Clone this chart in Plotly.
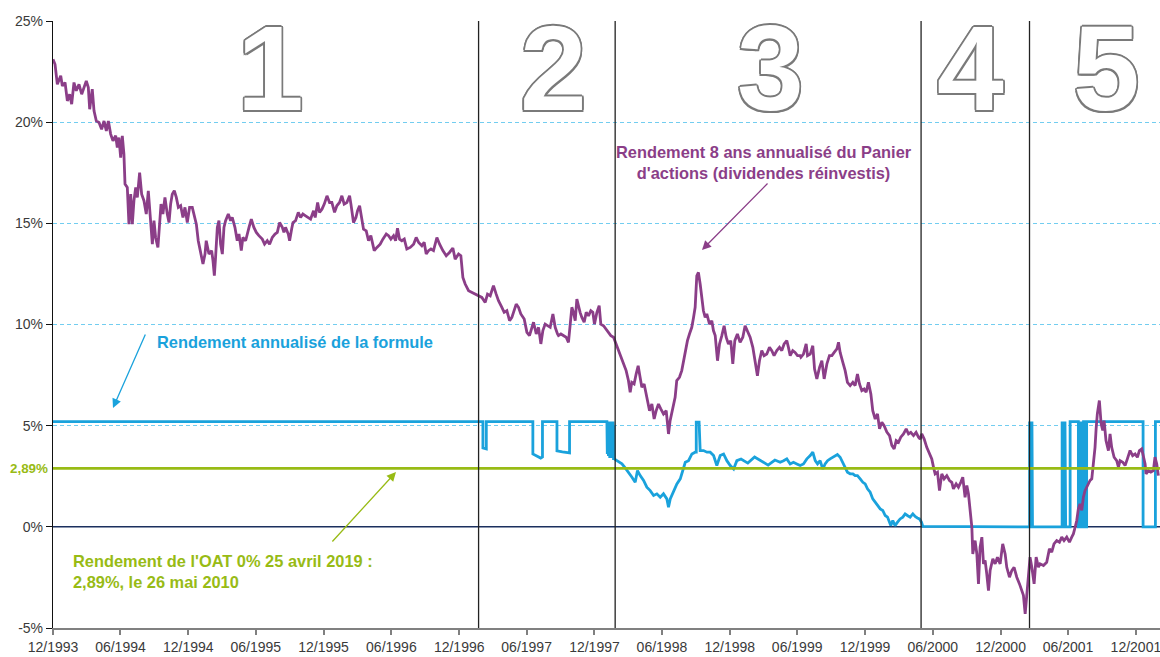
import numpy as np
import pandas as pd
import plotly.graph_objects as go

# ---------------- DATA ----------------
# x values are decimal years, y values in %
purple_years = [
1993.917,1993.932,1993.949,1993.974,1993.986,1994.006,1994.023,1994.040,1994.055,1994.072,1994.089,1994.109,1994.129,1994.146,1994.163,1994.178,1994.188,1994.207,1994.220,1994.237,1994.257,1994.276,1994.294,1994.311,1994.326,1994.343,1994.360,1994.380,1994.392,1994.404,1994.417,1994.429,1994.441,1994.449,1994.466,1994.478,1994.491,1994.503,1994.515,1994.528,1994.540,1994.557,1994.572,1994.589,1994.606,1994.621,1994.638,1994.651,1994.663,1994.675,1994.692,1994.705,1994.715,1994.729,1994.744,1994.761,1994.774,1994.786,1994.798,1994.813,1994.828,1994.843,1994.860,1994.877,1994.892,1994.909,1994.926,1994.946,1994.958,1994.976,1994.990,1995.008,1995.025,1995.040,1995.049,1995.069,1995.089,1995.099,1995.109,1995.118,1995.131,1995.143,1995.155,1995.168,1995.180,1995.192,1995.212,1995.229,1995.241,1995.261,1995.278,1995.291,1995.308,1995.320,1995.340,1995.365,1995.382,1995.401,1995.419,1995.438,1995.463,1995.480,1995.500,1995.517,1995.537,1995.557,1995.574,1995.591,1995.611,1995.623,1995.635,1995.655,1995.665,1995.680,1995.690,1995.709,1995.729,1995.746,1995.763,1995.783,1995.803,1995.820,
1995.842,1995.854,1995.872,1995.886,1995.904,1995.921,1995.941,1995.960,1995.977,1995.997,1996.014,1996.034,1996.051,1996.068,1996.088,1996.108,1996.118,1996.137,1996.155,1996.167,1996.182,1996.192,1996.211,1996.231,1996.248,1996.265,1996.290,1996.310,1996.334,1996.354,1996.379,1996.396,1996.413,1996.433,1996.448,1996.462,1996.477,1996.494,1996.512,1996.531,1996.556,1996.581,1996.600,1996.618,1996.642,1996.659,1996.674,1996.691,1996.709,1996.728,1996.753,1996.773,1996.797,1996.822,1996.846,1996.871,1996.888,1996.913,1996.930,1996.945,1996.962,1996.987,1997.011,1997.036,1997.061,1997.085,1997.110,1997.127,1997.147,1997.171,1997.191,1997.208,1997.233,1997.250,1997.270,1997.290,1997.307,1997.324,1997.339,1997.356,1997.373,1997.398,1997.418,1997.437,1997.455,1997.467,1997.487,1997.504,1997.521,1997.536,1997.553,1997.570,1997.590,1997.610,1997.627,1997.644,
1997.651,1997.669,1997.688,1997.708,1997.725,1997.738,1997.750,1997.762,1997.775,1997.787,1997.799,1997.811,1997.824,1997.841,1997.856,1997.873,1997.890,1997.905,1997.917,1997.935,1997.952,1997.964,1997.984,1998.003,1998.021,1998.038,1998.058,1998.077,1998.095,1998.112,1998.131,1998.151,1998.168,1998.181,1998.193,1998.210,1998.225,1998.240,1998.250,1998.267,1998.284,1998.299,1998.309,1998.324,1998.341,1998.358,1998.373,1998.390,1998.407,1998.427,1998.447,1998.464,1998.476,1998.496,1998.513,1998.525,1998.545,1998.562,1998.580,1998.592,1998.604,1998.619,1998.636,1998.649,1998.661,1998.673,1998.685,1998.698,1998.710,1998.722,1998.735,1998.747,1998.767,1998.784,1998.796,1998.809,1998.826,1998.841,1998.858,1998.875,1998.890,1998.907,1998.924,1998.939,1998.954,1998.973,1998.993,1999.013,1999.030,1999.047,1999.067,1999.087,1999.104,1999.121,1999.136,1999.153,1999.170,1999.190,1999.210,1999.227,1999.244,1999.264,1999.284,1999.301,1999.318,1999.338,1999.350,1999.363,1999.382,1999.399,1999.417,1999.436,
1999.442,1999.461,1999.481,1999.491,1999.511,1999.530,1999.543,1999.560,1999.580,1999.597,1999.614,1999.634,1999.653,1999.671,1999.688,1999.708,1999.720,1999.732,1999.752,1999.769,1999.786,1999.806,1999.826,1999.843,1999.860,1999.875,1999.892,1999.909,1999.924,1999.941,1999.959,1999.973,1999.991,2000.008,2000.023,2000.040,2000.057,2000.077,2000.097,2000.114,2000.131,2000.146,2000.163,2000.180,2000.200,2000.220,2000.237,2000.254,2000.274,2000.293,2000.311,2000.323,2000.335,2000.353,2000.372,2000.392,2000.409,2000.422,2000.434,2000.451,2000.466,2000.483,2000.500,2000.520,2000.540,2000.557,2000.569,2000.589,2000.606,2000.623,2000.638,2000.655,2000.668,2000.680,2000.692,2000.705,2000.712,2000.729,2000.742,2000.754,2000.766,2000.779,2000.791,2000.803,2000.815,2000.828,2000.840,2000.860,2000.877,2000.894,2000.914,2000.933,2000.951,2000.963,2000.983,2001.000,2001.017,2001.037,2001.057,2001.074,2001.086,2001.099,2001.111,2001.123,2001.135,2001.148,2001.165,2001.180,2001.197,2001.209,
2001.234,2001.258,2001.278,2001.295,2001.312,2001.332,2001.352,2001.369,2001.386,2001.406,2001.426,2001.443,2001.455,2001.468,2001.480,2001.492,2001.504,2001.517,2001.529,2001.541,2001.554,2001.566,2001.578,2001.591,2001.603,2001.615,2001.623,2001.632,2001.647,2001.660,2001.672,2001.682,2001.696,2001.714,2001.726,2001.738,2001.756,2001.775,2001.788,2001.800,2001.820,2001.837,2001.854,2001.874,2001.893,2001.911,2001.928,2001.943,2001.960,2001.972,2001.985,2001.992,2002.009,2002.027,2002.046,2002.058,2002.071,2002.083]
purple_values = [
23.11,22.86,21.87,22.29,21.79,21.96,21.05,21.38,20.89,21.96,21.55,21.87,21.38,21.71,22.04,21.71,20.64,21.63,20.56,20.06,19.98,19.65,20.06,19.57,20.06,19.41,19.08,19.33,18.75,19.24,18.25,19.32,18.42,16.94,16.77,14.96,16.44,14.96,16.12,16.77,16.28,17.51,16.44,16.12,15.46,16.61,15.13,13.97,15.13,14.30,13.81,14.80,15.95,15.46,16.28,15.46,15.04,15.95,16.44,16.61,16.28,15.79,15.87,15.29,15.79,15.04,15.79,15.79,15.46,14.96,14.14,13.56,12.99,13.48,14.14,13.48,13.65,13.15,12.41,13.32,14.80,15.13,13.97,13.48,14.80,15.13,15.46,15.13,15.29,14.80,14.14,14.47,13.65,14.30,14.14,14.80,15.21,14.80,14.55,14.39,14.22,13.97,14.14,13.97,14.30,14.47,14.55,15.04,14.80,14.55,14.80,14.47,14.14,14.72,15.04,15.13,15.54,15.29,15.46,15.37,15.29,15.21,
15.62,15.29,16.03,15.54,15.70,15.95,16.36,16.03,16.03,15.54,15.87,16.03,16.36,15.95,16.03,16.36,15.95,15.04,15.29,15.62,15.87,15.46,14.71,14.63,14.14,14.39,13.65,13.81,13.97,14.22,14.47,14.39,14.22,14.39,14.14,14.76,14.22,14.14,14.22,13.73,13.81,13.97,14.30,14.06,13.89,14.06,13.48,13.65,13.73,13.65,14.30,13.97,13.65,13.40,13.56,13.78,13.23,13.48,13.40,12.33,12.00,11.67,11.59,11.50,11.42,11.34,11.09,11.50,11.42,11.92,11.50,11.18,10.85,10.60,10.68,10.19,10.35,10.76,11.01,10.85,10.52,10.27,9.61,9.45,9.86,10.11,9.53,9.86,9.04,9.70,10.02,9.94,9.86,10.52,9.86,9.53,
9.45,9.53,9.45,9.37,9.12,10.02,10.85,10.60,10.19,11.26,10.85,10.60,10.35,10.11,10.60,10.43,10.68,10.60,10.02,10.60,10.93,10.02,9.94,9.78,9.61,9.45,9.37,9.04,8.71,8.38,8.05,7.72,7.23,6.65,7.14,7.06,7.55,7.96,7.55,6.90,7.06,6.57,6.24,5.74,6.07,5.33,5.74,6.07,5.83,5.58,5.74,4.59,5.25,5.91,6.40,7.23,7.39,7.72,8.38,8.87,9.20,9.53,9.86,10.35,10.85,12.41,12.57,12.00,11.34,10.68,10.35,10.52,10.02,10.19,9.70,9.45,8.21,9.04,9.45,9.94,9.37,9.04,9.20,8.05,9.20,9.53,9.12,9.37,9.94,9.70,9.37,8.87,8.21,7.47,8.21,8.71,8.46,8.54,8.87,8.71,8.46,8.71,8.87,8.71,9.04,9.20,8.87,8.46,8.71,8.62,8.46,8.46,
8.38,8.54,9.04,8.46,8.54,8.95,7.80,7.31,7.88,8.21,7.31,8.05,8.46,8.46,8.62,8.79,9.12,8.62,8.13,7.72,7.14,6.98,7.14,6.98,7.55,7.06,6.73,6.81,6.65,7.14,6.57,5.74,5.33,5.58,4.84,5.17,5.00,4.68,4.51,4.02,3.85,4.26,4.18,4.43,4.59,4.84,4.59,4.67,4.51,4.67,4.43,4.34,4.59,4.34,3.93,3.60,3.36,2.94,2.62,2.70,1.79,2.62,2.37,2.53,2.29,2.20,1.88,2.12,1.96,2.20,2.45,1.46,2.04,1.63,0.64,-0.02,-1.34,-0.68,-1.34,-2.82,-1.00,-0.51,-1.83,-1.66,-2.32,-3.15,-2.16,-1.58,-1.83,-1.50,-1.83,-0.84,-1.34,-2.00,-2.49,-2.16,-2.00,-2.49,-2.82,-3.15,-3.39,-4.30,-3.47,-2.49,-1.50,-1.99,-2.82,-1.50,-1.99,-1.83,
-1.91,-1.75,-1.09,-1.25,-0.84,-0.68,-0.76,-0.51,-0.68,-0.51,-0.76,-0.51,-0.35,-0.02,0.31,0.89,1.13,0.81,1.46,1.79,1.96,2.12,2.29,2.37,3.11,3.93,4.84,5.58,6.24,5.09,4.76,5.25,4.26,3.77,4.59,3.93,3.44,3.27,2.95,3.27,3.19,3.03,3.36,3.77,3.52,3.60,3.44,3.77,3.85,3.52,3.11,2.62,2.78,2.70,2.78,3.44,3.11,2.53]

blue_years = [
1993.917,1997.093,1997.093,1997.118,1997.118,1997.462,1997.462,1997.490,1997.520,1997.533,1997.533,1997.640,1997.640,1997.680,1997.733,1997.733,1998.009,
1998.012,1998.016,1998.020,1998.025,1998.030,1998.035,1998.040,1998.045,1998.050,1998.055,1998.058,1998.061,1998.063,
1998.083,1998.120,1998.144,1998.169,1998.194,1998.218,1998.235,1998.255,1998.280,1998.304,1998.329,1998.354,1998.378,1998.403,1998.427,1998.452,1998.464,1998.477,1998.501,1998.526,1998.551,1998.575,1998.588,1998.612,1998.637,1998.661,1998.669,1998.669,1998.690,1998.698,1998.723,1998.748,1998.772,1998.797,1998.821,1998.846,1998.871,1998.895,1998.920,1998.945,1998.969,
1999.000,1999.050,1999.100,1999.150,1999.200,1999.250,
1999.289,1999.314,1999.338,1999.363,1999.387,1999.412,1999.437,1999.461,1999.486,1999.511,1999.530,1999.548,1999.565,1999.584,1999.604,1999.621,1999.639,1999.658,1999.678,1999.695,1999.712,1999.732,1999.752,1999.769,1999.786,1999.806,1999.826,1999.843,1999.860,1999.880,1999.900,1999.917,1999.934,1999.954,1999.973,1999.991,2000.008,2000.028,2000.047,2000.065,2000.082,2000.097,2000.106,2000.121,2000.138,2000.156,2000.175,2000.195,2000.212,2000.229,2000.249,2000.269,2000.286,2000.303,2000.318,2000.333,2000.343,
2001.132,2001.132,2001.135,2001.135,2001.140,2001.140,2001.144,2001.144,2001.149,2001.149,2001.153,2001.153,
2001.372,2001.372,2001.376,2001.376,2001.382,2001.382,2001.387,2001.387,2001.393,2001.393,2001.398,2001.398,
2001.431,2001.431,2001.492,2001.492,
2001.507,2001.507,2001.512,2001.512,2001.518,2001.518,2001.523,2001.523,2001.530,2001.530,2001.536,2001.536,2001.543,2001.543,2001.548,2001.548,2001.553,2001.553,2001.970,2001.970,2002.061,2002.061,2002.095]
blue_values = [
5.2,5.2,3.9,3.85,5.2,5.2,3.6,3.5,3.4,3.45,5.2,5.2,3.75,3.7,3.65,5.2,5.2,
3.6,5.2,3.5,5.2,3.4,5.2,3.5,5.2,3.4,5.2,3.3,5.0,3.36,
3.27,3.11,2.91,2.70,2.45,2.20,2.78,2.53,2.29,1.96,1.79,1.55,1.63,1.46,1.63,1.38,0.97,1.38,1.79,2.12,2.37,2.95,3.19,3.27,3.60,3.69,3.69,5.17,5.17,3.77,3.77,3.69,3.69,3.52,3.03,3.52,3.60,3.27,3.03,2.86,3.27,
3.35,3.15,3.45,3.25,3.05,3.30,
3.19,3.27,3.36,3.11,3.19,3.11,3.03,3.11,3.36,3.52,3.69,3.27,3.11,3.27,2.86,3.11,3.27,3.36,3.44,3.52,3.57,3.44,3.19,2.95,2.70,2.62,2.62,2.53,2.53,2.37,2.20,2.12,1.88,1.71,1.38,1.22,1.05,0.89,0.81,0.56,0.48,0.23,0.06,0.31,0.06,0.23,0.39,0.48,0.64,0.56,0.48,0.64,0.51,0.44,0.39,0.23,0.02,
0.0,5.2,5.2,0.0,0.0,5.2,5.2,0.0,0.0,5.2,5.2,0.0,
0.0,5.2,5.2,0.0,0.0,5.2,5.2,0.0,0.0,5.2,5.2,0.0,
0.0,5.2,5.2,0.0,
0.0,5.2,5.2,0.0,0.0,5.2,5.2,0.0,0.0,5.2,5.2,0.0,0.0,5.2,5.2,0.0,0.0,5.2,5.2,0.0,0.0,5.2,5.2]

oat_rate = 2.89
phase_labels = ["1", "2", "3", "4", "5"]
phase_borders = [1997.061, 1998.070, 2000.330, 2001.131]
x_start, x_end = 1993.917, 2002.095
y_ticks = [-5, 0, 5, 10, 15, 20, 25]

# ---------------- helpers ----------------
BASE = pd.Timestamp("1993-12-01")
def to_dates(years):
    arr = np.asarray(years, dtype=float)
    return BASE + pd.to_timedelta((arr - 1993.917) * 365.25, unit="D")

W, H = 1160, 657
ML, MR, MT, MB = 53, 0, 21, 29
PW, PH = W - ML - MR, H - MT - MB
def px(xp):  # pixel -> paper x
    return (xp - ML) / PW
def py(yp):  # pixel -> paper y
    return (H - MB - yp) / PH

PURPLE = "#8b3e88"
BLUE = "#1aa2dc"
GREEN = "#98bb15"
NAVY = "#1b2f5e"
FONT = "Liberation Sans, Arial, sans-serif"

xs = to_dates([x_start, x_end])

fig = go.Figure()
# zero line
fig.add_trace(go.Scatter(x=xs, y=[0, 0], mode="lines", line=dict(color=NAVY, width=1.5), hoverinfo="skip"))
# formula
fig.add_trace(go.Scatter(x=to_dates(blue_years), y=blue_values, mode="lines",
                         line=dict(color=BLUE, width=2.8), hoverinfo="skip"))
# basket
fig.add_trace(go.Scatter(x=to_dates(purple_years), y=purple_values, mode="lines",
                         line=dict(color=PURPLE, width=2.8), hoverinfo="skip"))
# OAT
fig.add_trace(go.Scatter(x=xs, y=[oat_rate, oat_rate], mode="lines",
                         line=dict(color=GREEN, width=2.6), hoverinfo="skip"))

# phase borders
for b in to_dates(phase_borders):
    fig.add_shape(type="line", xref="x", yref="paper", x0=b, x1=b, y0=0, y1=1,
                  line=dict(color="#222222", width=1.3), layer="above")

# big outlined phase numbers
outline = ", ".join(f"{dx}px {dy}px 0 #7a7a7a" for dx, dy in
                    [(-1.5, -1.5), (1.5, -1.5), (-1.5, 1.5), (1.5, 1.5), (0, -1.8), (0, 1.8), (-1.8, 0), (1.8, 0)])
num_px = [270, 553, 770, 970, 1106]
for lab, xp in zip(phase_labels, num_px):
    fig.add_annotation(text=lab, xref="paper", yref="paper", x=px(xp), y=py(68),
                       xanchor="center", yanchor="middle", showarrow=False,
                       font=dict(family=FONT, size=120, color="white", weight="bold", shadow=outline))

# 2,89% label
fig.add_annotation(text="<b>2,89%</b>", xref="paper", yref="y", x=0, y=oat_rate,
                   xanchor="right", yanchor="middle", xshift=-3, showarrow=False,
                   font=dict(family=FONT, size=13.4, color=GREEN))

# text annotations
fig.add_annotation(text="<b>Rendement annualisé de la formule</b>", xref="paper", yref="paper",
                   x=px(155), y=py(342), xanchor="left", yanchor="middle", showarrow=False,
                   font=dict(family=FONT, size=16.4, color=BLUE))
fig.add_annotation(text="<b>Rendement 8 ans annualisé du Panier<br>d'actions (dividendes réinvestis)</b>",
                   xref="paper", yref="paper", x=px(764), y=py(162.5), xanchor="center", yanchor="middle",
                   align="center", showarrow=False, font=dict(family=FONT, size=16.4, color=PURPLE))
fig.add_annotation(text="<b>Rendement de l'OAT 0% 25 avril 2019 :<br>2,89%, le 26 mai 2010</b>",
                   xref="paper", yref="paper", x=px(71), y=py(571), xanchor="left", yanchor="middle",
                   align="left", showarrow=False, font=dict(family=FONT, size=16.4, color=GREEN))

# arrows
def arrow(head, tail, color):
    fig.add_annotation(text="", xref="paper", yref="paper", x=px(head[0]), y=py(head[1]),
                       ax=tail[0] - head[0], ay=tail[1] - head[1], axref="pixel", ayref="pixel",
                       showarrow=True, arrowhead=2, arrowsize=1.4, arrowwidth=1.3, arrowcolor=color)
arrow((113, 408), (146, 333), BLUE)
arrow((702, 250), (769, 182), PURPLE)
arrow((396, 472), (331, 543), GREEN)

fig.update_layout(
    width=W, height=H, template="none", showlegend=False,
    margin=dict(l=ML, r=MR, t=MT, b=MB, autoexpand=False),
    paper_bgcolor="white", plot_bgcolor="white",
    font=dict(family=FONT, size=14, color="#3a3a3a"),
    xaxis=dict(type="date", range=list(xs), tick0="1993-12-01", dtick="M6", tickformat="%m/%Y",
               showgrid=False, zeroline=False, showline=True, linecolor="#808080", linewidth=2,
               ticks="outside", ticklen=5, tickwidth=1.5, tickcolor="#808080", ticklabeloverflow="allow",
               tickfont=dict(family=FONT, size=14, color="#3a3a3a"), automargin=False),
    yaxis=dict(range=[-5, 25], tickvals=y_ticks, ticktext=[f"{v}%" for v in y_ticks],
               showgrid=True, gridcolor="#72cdf0", griddash="4px,3px", gridwidth=1,
               zeroline=False, showline=True, linecolor="#111111", linewidth=1.3,
               ticks="outside", ticklen=6, tickcolor="#111111",
               tickfont=dict(family=FONT, size=14, color="#3a3a3a"), automargin=False),
)

fig.write_html("out.html", config={"displayModeBar": False},
               post_script="document.body.style.margin='0';document.body.style.overflow='hidden';")
